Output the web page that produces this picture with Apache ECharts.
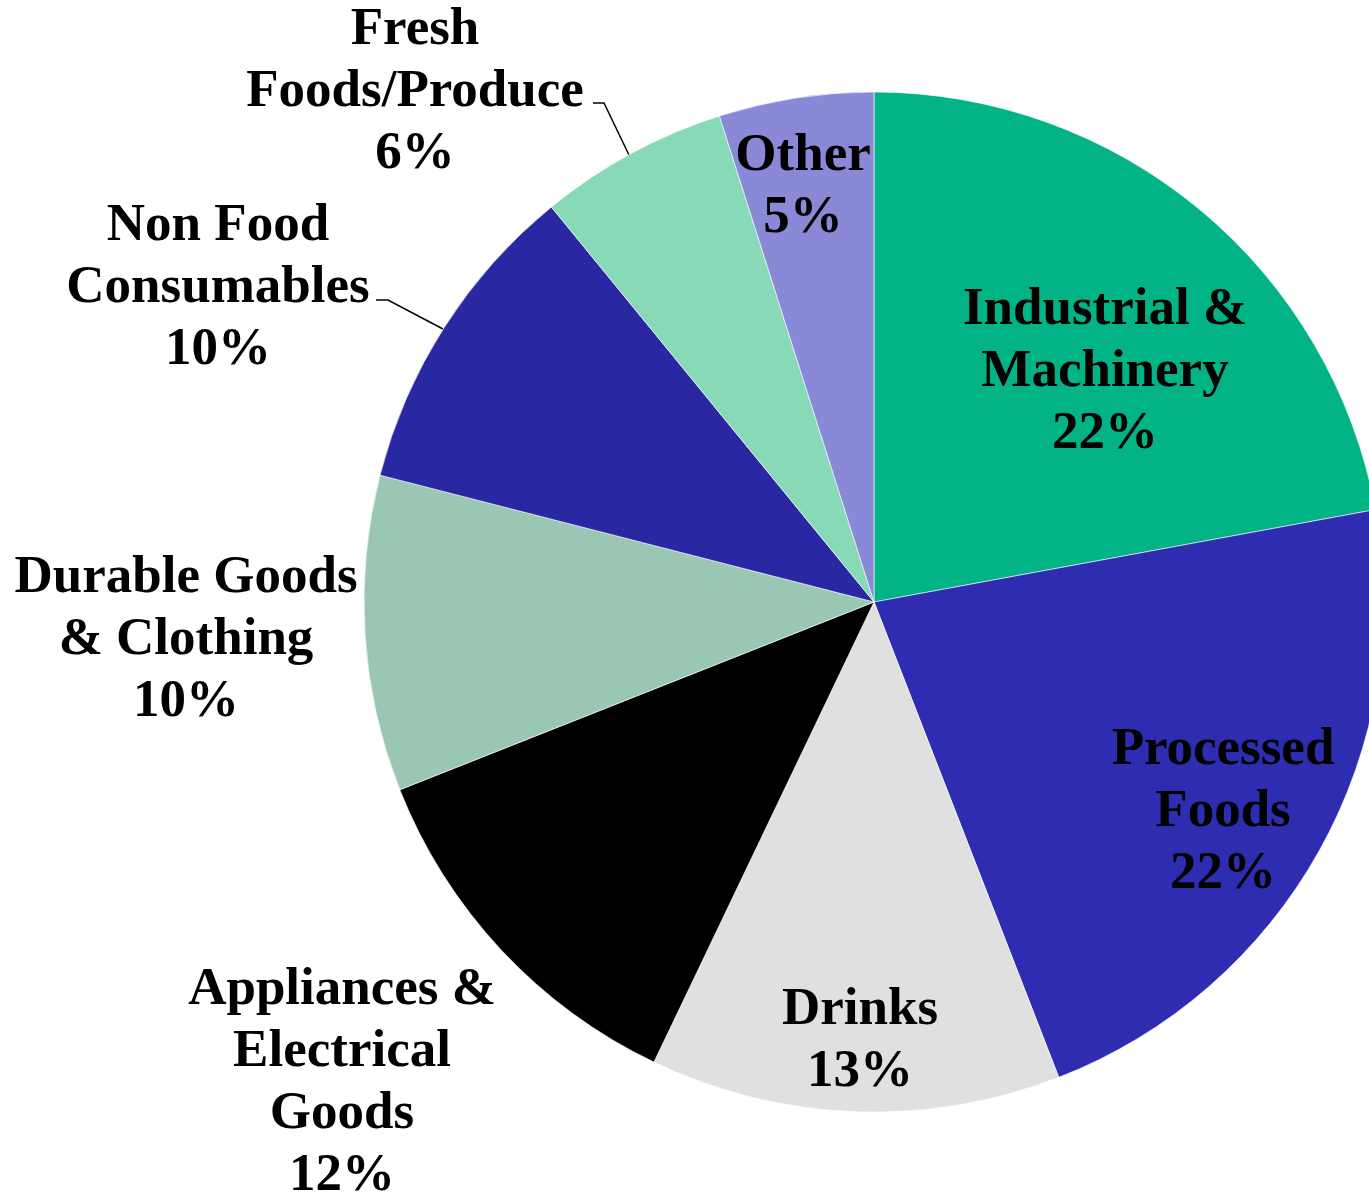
<!DOCTYPE html>
<html>
<head>
<meta charset="utf-8">
<script src="https://cdn.jsdelivr.net/npm/echarts@6/dist/echarts.min.js"></script>
<style>
  html, body { margin: 0; padding: 0; background: #fff; }
  #mychart { width: 1369px; height: 1192px; }
</style>
</head>
<body>
<div id="mychart"></div>
<script>
// categories (clockwise from 12 o'clock)
var names = [
  "Industrial &\nMachinery",
  "Processed\nFoods",
  "Drinks",
  "Appliances &\nElectrical\nGoods",
  "Durable Goods\n& Clothing",
  "Non Food\nConsumables",
  "Fresh\nFoods/Produce",
  "Other"
];
// share of total (%)
var values = [22.1, 22.0, 13.0, 11.9, 10.0, 10.1, 6.0, 4.9];

// styles
var colors = ["#02b386", "#2e2db1", "#e0e0e0", "#000000", "#9ac7b3", "#2a27a2", "#88d9b7", "#8a89d8"];
var insideLabel = [true, true, true, false, false, false, false, true];
// label block centres in px
var labelPos = [
  [1105, 372], [1223, 812], [860, 1041], [342, 1083],
  [186, 640], [218, 288], [415, 92], [803, 187]
];
// leader lines (only for two outside labels)
var leaderLines = {
  5: [[376, 300], [388, 300], [443, 329]],
  6: [[593, 103], [604, 103], [629, 155]]
};

var total = values.reduce(function (a, b) { return a + b; }, 0);

var pieData = names.map(function (n, i) {
  return {
    name: n,
    value: values[i],
    itemStyle: { color: colors[i] },
    label: { position: insideLabel[i] ? "inside" : "outside" },
    labelLine: { show: !!leaderLines[i] }
  };
});

var myChart = echarts.init(document.getElementById("mychart"));
var option = {
  animation: false,
  backgroundColor: "#ffffff",
  series: [
    {
      type: "pie",
      center: [874, 602],
      radius: [0, 510],
      startAngle: 90,
      clockwise: true,
      avoidLabelOverlap: false,
      data: pieData,
      itemStyle: { borderColor: "#ffffff", borderWidth: 0.6 },
      label: {
        show: true,
        color: "#000",
        fontFamily: "Liberation Serif",
        fontWeight: "bold",
        fontSize: 53,
        lineHeight: 62,
        align: "center",
        formatter: function (p) {
          return p.name + "\n" + Math.round(p.value / total * 100) + "%";
        }
      },
      labelLine: {
        show: false,
        lineStyle: { color: "#000", width: 1.5 }
      },
      labelLayout: function (p) {
        var pos = labelPos[p.dataIndex];
        var res = {
          x: pos[0],
          y: pos[1],
          align: "center",
          verticalAlign: "middle"
        };
        if (leaderLines[p.dataIndex]) {
          res.labelLinePoints = leaderLines[p.dataIndex];
        }
        return res;
      }
    }
  ]
};
myChart.setOption(option);
window.addEventListener("resize", function () {
  myChart.resize();
});
</script>
</body>
</html>
